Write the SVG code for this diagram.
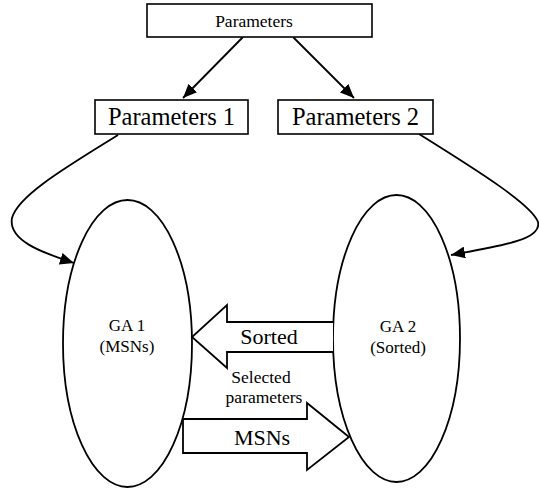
<svg xmlns="http://www.w3.org/2000/svg" width="539" height="491" viewBox="0 0 539 491">
<style>
.box{fill:#fff;stroke:#000;stroke-width:1.6}
.ell{fill:#fff;stroke:#000;stroke-width:1.8}
.blk{fill:#fff;stroke:#000;stroke-width:1.8;stroke-linejoin:miter}
.con{fill:none;stroke:#000;stroke-width:1.8}
.t{font-family:'Liberation Serif','Times New Roman',Times,serif;fill:#000;text-anchor:middle}
</style>
<defs>
<marker id="ah" markerUnits="userSpaceOnUse" markerWidth="16" markerHeight="12" refX="14" refY="6" orient="auto">
<path d="M0,0 L14,6 L0,12 Z" fill="#000"/>
</marker>
</defs>
<g id="connectors">
<line class="con" x1="243" y1="37" x2="183" y2="98" marker-end="url(#ah)"/>
<line class="con" x1="293" y1="37" x2="354" y2="98" marker-end="url(#ah)"/>
<path class="con" d="M118,135 C70,165 18,195 12,218 C8,240 40,252 74,263" marker-end="url(#ah)"/>
<path class="con" d="M419,134 C480,172 532,205 538,222 C542,240 500,246 451,255" marker-end="url(#ah)"/>
</g>
<g id="params">
<rect class="box" x="147" y="4" width="225" height="33"/>
<text class="t" x="254" y="27" font-size="17.5">Parameters</text>
</g>
<g id="params1">
<rect class="box" x="95" y="100" width="153" height="34"/>
<text class="t" x="171.5" y="125" font-size="24.5">Parameters 1</text>
</g>
<g id="params2">
<rect class="box" x="278" y="100" width="155" height="34"/>
<text class="t" x="355.5" y="125" font-size="24.5">Parameters 2</text>
</g>
<g id="ga1">
<ellipse class="ell" cx="127.5" cy="343.5" rx="64.5" ry="143.5"/>
<text class="t" x="127" y="331" font-size="17">GA 1</text>
<text class="t" x="127" y="352" font-size="17">(MSNs)</text>
</g>
<g id="ga2">
<ellipse class="ell" cx="396.5" cy="338.5" rx="63.5" ry="143.5"/>
<text class="t" x="398" y="332" font-size="17">GA 2</text>
<text class="t" x="398" y="353" font-size="17">(Sorted)</text>
</g>
<g id="sorted">
<path class="blk" d="M333,322 L227,322 L227,305 L192,337 L227,368 L227,352 L333,352"/>
<text class="t" x="269" y="344" font-size="22">Sorted</text>
</g>
<g id="msns">
<path class="blk" d="M183,419 L307,419 L307,403 L349,437 L307,470 L307,453 L183,453 Z"/>
<text class="t" x="262" y="445" font-size="22">MSNs</text>
</g>
<g id="selected">
<text class="t" x="261" y="383" font-size="17.5">Selected</text>
<text class="t" x="264" y="403" font-size="17.5">parameters</text>
</g>
</svg>
